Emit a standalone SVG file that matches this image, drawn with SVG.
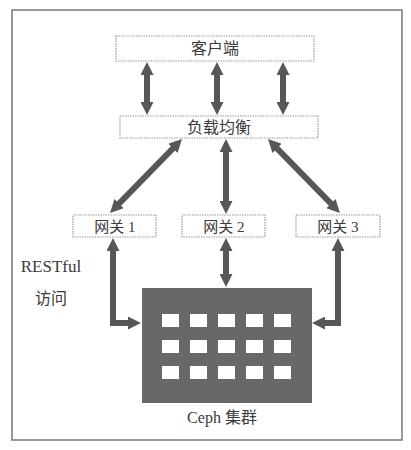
<svg xmlns="http://www.w3.org/2000/svg" width="411" height="450" viewBox="0 0 411 450">
<style>
.box{fill:#fff;stroke:#9a9a9a;stroke-width:1.2;stroke-dasharray:1.5 1}
.t{font-family:"Liberation Serif","Noto Sans CJK SC",serif;fill:#3a3a3a;text-anchor:middle}
.arr{fill:none;stroke:#575757;stroke-width:6;stroke-linejoin:miter}
.cell{fill:#fff}
</style>
<defs>
<marker id="ah" viewBox="0 0 13 13" refX="5" refY="6.5" markerWidth="13" markerHeight="13" markerUnits="userSpaceOnUse" orient="auto-start-reverse">
<path d="M0,0 L13,6.5 L0,13 z" fill="#575757"/>
</marker>
</defs>
<rect x="0" y="0" width="411" height="450" fill="#fff"/>
<rect x="12" y="10" width="390" height="430" fill="none" stroke="#777" stroke-width="1.5"/>

<g id="connectors">
<line class="arr" x1="147" y1="70" x2="147" y2="107" marker-start="url(#ah)" marker-end="url(#ah)"/>
<line class="arr" x1="217" y1="70" x2="217" y2="107" marker-start="url(#ah)" marker-end="url(#ah)"/>
<line class="arr" x1="283" y1="70" x2="283" y2="107" marker-start="url(#ah)" marker-end="url(#ah)"/>
<line class="arr" x1="176.4" y1="144.8" x2="115.6" y2="207.2" marker-start="url(#ah)" marker-end="url(#ah)"/>
<line class="arr" x1="226" y1="147" x2="226" y2="206" marker-start="url(#ah)" marker-end="url(#ah)"/>
<line class="arr" x1="273.6" y1="144.8" x2="334.4" y2="207.2" marker-start="url(#ah)" marker-end="url(#ah)"/>
<line class="arr" x1="226" y1="246" x2="226" y2="279" marker-start="url(#ah)" marker-end="url(#ah)"/>
<path class="arr" d="M113,246 V323 H133" marker-start="url(#ah)" marker-end="url(#ah)"/>
<path class="arr" d="M338,246 V323 H320" marker-start="url(#ah)" marker-end="url(#ah)"/>
</g>

<g id="client">
<rect class="box" x="116" y="36" width="198" height="25"/>
<text class="t" x="215" y="54" font-size="16">客户端</text>
</g>
<g id="lb">
<rect class="box" x="120" y="116" width="198" height="22"/>
<text class="t" x="219" y="133" font-size="16">负载均衡</text>
</g>
<g id="gw1">
<rect class="box" x="73" y="215" width="83" height="22"/>
<text class="t" x="115" y="232" font-size="15">网关 1</text>
</g>
<g id="gw2">
<rect class="box" x="182" y="215" width="83" height="22"/>
<text class="t" x="224" y="232" font-size="15">网关 2</text>
</g>
<g id="gw3">
<rect class="box" x="296" y="215" width="84" height="22"/>
<text class="t" x="338" y="232" font-size="15">网关 3</text>
</g>
<g id="cluster">
<rect x="142" y="288" width="170" height="115" fill="#686868"/>
<g class="cell">
<rect x="162" y="314" width="17" height="13"/><rect x="190" y="314" width="17" height="13"/><rect x="218" y="314" width="17" height="13"/><rect x="246" y="314" width="17" height="13"/><rect x="274" y="314" width="17" height="13"/>
<rect x="162" y="340" width="17" height="13"/><rect x="190" y="340" width="17" height="13"/><rect x="218" y="340" width="17" height="13"/><rect x="246" y="340" width="17" height="13"/><rect x="274" y="340" width="17" height="13"/>
<rect x="162" y="366" width="17" height="13"/><rect x="190" y="366" width="17" height="13"/><rect x="218" y="366" width="17" height="13"/><rect x="246" y="366" width="17" height="13"/><rect x="274" y="366" width="17" height="13"/>
</g>
<text class="t" x="222" y="423" font-size="16">Ceph 集群</text>
</g>
<g id="restful">
<text class="t" x="51" y="272" font-size="17">RESTful</text>
<text class="t" x="51" y="304" font-size="16">访问</text>
</g>
</svg>
